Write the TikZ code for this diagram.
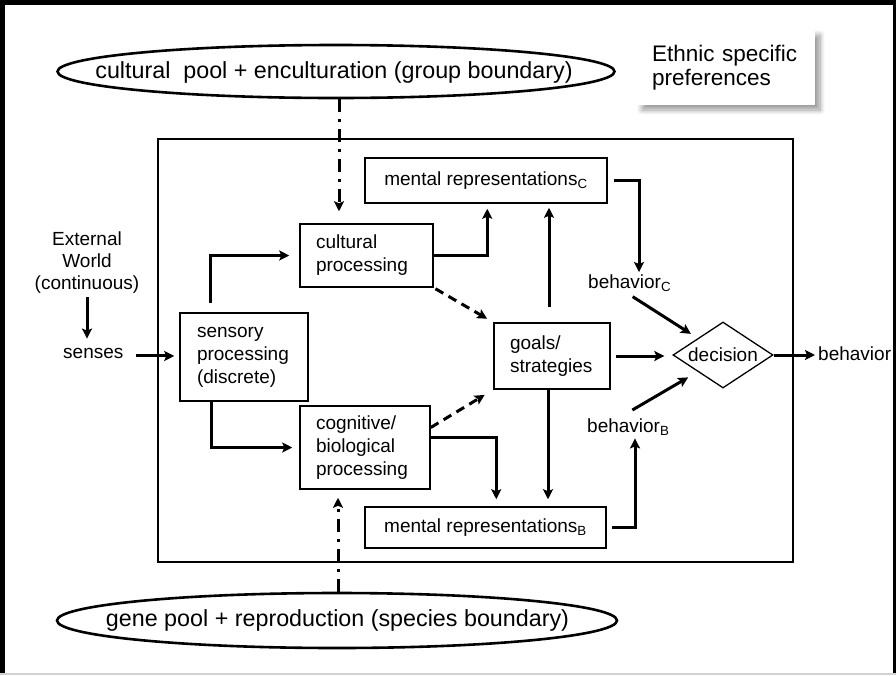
\documentclass[tikz,border=0pt]{standalone}
\usepackage{fontspec}
\setmainfont{Liberation Sans}
\usetikzlibrary{arrows.meta,shapes.geometric,shadows.blur,calc}

\begin{document}
\begin{tikzpicture}[x=1pt,y=-1pt,
  lbl/.style={font=\fontsize{19}{22}\selectfont, inner sep=0pt},
  box/.style={draw, line width=1.5pt, font=\fontsize{19}{23}\selectfont, inner xsep=16pt, inner ysep=0pt, align=left},
  mbox/.style={draw, line width=1.5pt, font=\fontsize{19}{23}\selectfont, inner sep=0pt, align=center},
  arr/.style={line width=3pt, -{Stealth[length=10pt,width=10pt,inset=2pt]}},
  darr/.style={arr, dash pattern=on 9pt off 6pt},
  ddarr/.style={arr, dash pattern=on 13pt off 7pt on 3pt off 7pt},
  pool/.style={ellipse, draw, line width=2.6pt, inner sep=0pt},
  pooltext/.style={font=\fontsize{23.3}{26}\selectfont, inner sep=0pt},
]
\useasboundingbox (0,0) rectangle (896,675);
% outer frame
\draw[line width=5pt] (0,2.5) -- (896,2.5);
\draw[line width=4.5pt] (2.25,0) -- (2.25,675);
\draw[line width=2.5pt] (894.5,0) -- (894.5,675);
\draw[gray!35, line width=1.5pt] (0,674) -- (896,674);

% inner frame
\draw[line width=1.5pt] (158,139) rectangle (793,562);

% ethnic box
\node[fill=white, blur shadow={shadow xshift=5pt, shadow yshift=-5pt, shadow blur steps=10, shadow blur radius=5pt},
      minimum width=178pt, minimum height=75pt, text width=148pt, inner xsep=15pt, inner ysep=0pt, align=left,
      font=\fontsize{22.5}{24}\selectfont] (ethnic) at (726,67.5) {Ethnic specific\\preferences};

% pools
\node[pool, minimum width=557pt, minimum height=53pt] (cultell) at (336,71.5) {};
\node[pooltext] (culttxt) at (334,72) {cultural\ \ pool + enculturation (group boundary)};
\node[pool, minimum width=560pt, minimum height=55pt] (geneell) at (337,620.5) {};
\node[pooltext] (genetxt) at (337.5,620) {gene pool + reproduction (species boundary)};

% left labels
\node[lbl, align=center, anchor=north] (ext) at (87,232) {External\\World\\(continuous)};
\node[lbl, anchor=base west] (senses) at (63,358) {senses};

% boxes
\node[box, inner xsep=17pt, text width=94pt, minimum height=88pt] (sensory) at (244,357) {sensory\\processing\\(discrete)};
\node[box, text width=101pt, minimum height=63pt] (cultural) at (366.5,255.5) {cultural\\processing};
\node[box, text width=98pt, minimum height=83pt] (cognitive) at (365,447.5) {cognitive/\\biological\\processing};
\node[box, text width=84pt, minimum height=66pt] (goals) at (552,356) {goals/\\strategies};
\node[mbox, minimum width=242pt, minimum height=45pt] (mentalC) at (486,180.5) {mental representations\textsubscript{C}};
\node[mbox, minimum width=241pt, minimum height=41pt] (mentalB) at (485.5,527.5) {mental representations\textsubscript{B}};

\node[diamond, draw, line width=1.3pt, inner sep=0pt, shape aspect=1.5, minimum width=100pt, minimum height=66pt,
      font=\fontsize{19}{22}\selectfont] (decision) at (723,355) {decision};

\node[lbl, anchor=base west] (behC) at (588,288) {behavior\textsubscript{C}};
\node[lbl, anchor=base west] (behB) at (587,432) {behavior\textsubscript{B}};
\node[lbl, anchor=base west] (beh) at (818,360) {behavior};

% connectors
\draw[arr, shorten <=3pt, shorten >=9pt] (ext.south) -- (ext.south |- senses.north);
\draw[arr, shorten <=12pt, shorten >=5pt] ([yshift=-3pt]senses.east) -- ([yshift=-3pt]senses.east -| sensory.west);
\draw[arr, shorten >=10pt] ([xshift=31pt,yshift=9pt]sensory.north west) |- (cultural.west);
\draw[arr, shorten >=7pt] ([xshift=32pt]sensory.south west) |- (cognitive.west);
\draw[arr, shorten >=5pt] (cultural.east) -| ([xshift=123pt]mentalC.south west);
\draw[arr, shorten <=15pt, shorten >=4pt] ([xshift=-3pt]goals.north) -- ([xshift=-3pt]goals.north |- mentalC.south);
\draw[arr, shorten >=7pt] ([xshift=-4pt]goals.south) -- ([xshift=-4pt]goals.south |- mentalB.north);
\draw[arr, shorten >=7pt] ([yshift=10pt]cognitive.east) -| ([xshift=132pt]mentalB.north west);
\draw[darr, shorten <=2pt, shorten >=7pt] (cultural.south east) -- (goals.north west);
\draw[darr, shorten >=10pt] ([yshift=20pt]cognitive.east) -- (goals.south west);
\draw[arr, shorten <=6pt, shorten >=2pt] (mentalC.east) -| ([xshift=51pt]behC.north west);
\draw[arr, shorten >=8pt] ([xshift=3pt,yshift=-5pt]behC.south) -- (decision.north west);
\draw[arr, shorten <=5pt, shorten >=8pt] (goals.east) -- (goals.east -| decision.west);
\draw[arr, shorten >=11pt] ([xshift=4pt,yshift=8pt]behB.north) -- (decision.south west);
\draw[arr, shorten <=5pt, shorten >=3pt] (mentalB.east) -| ([xshift=48pt]behB.south west);
\draw[arr, shorten >=3pt] (decision.east) -- (decision.east -| beh.west);
\draw[ddarr, shorten >=12pt] ([xshift=3pt]cultell.south) -- ([xshift=3pt]cultell.south |- cultural.north);
\draw[ddarr, shorten >=8pt] ([xshift=1pt]geneell.north) -- ([xshift=1pt]geneell.north |- cognitive.south);
\end{tikzpicture}
\end{document}
